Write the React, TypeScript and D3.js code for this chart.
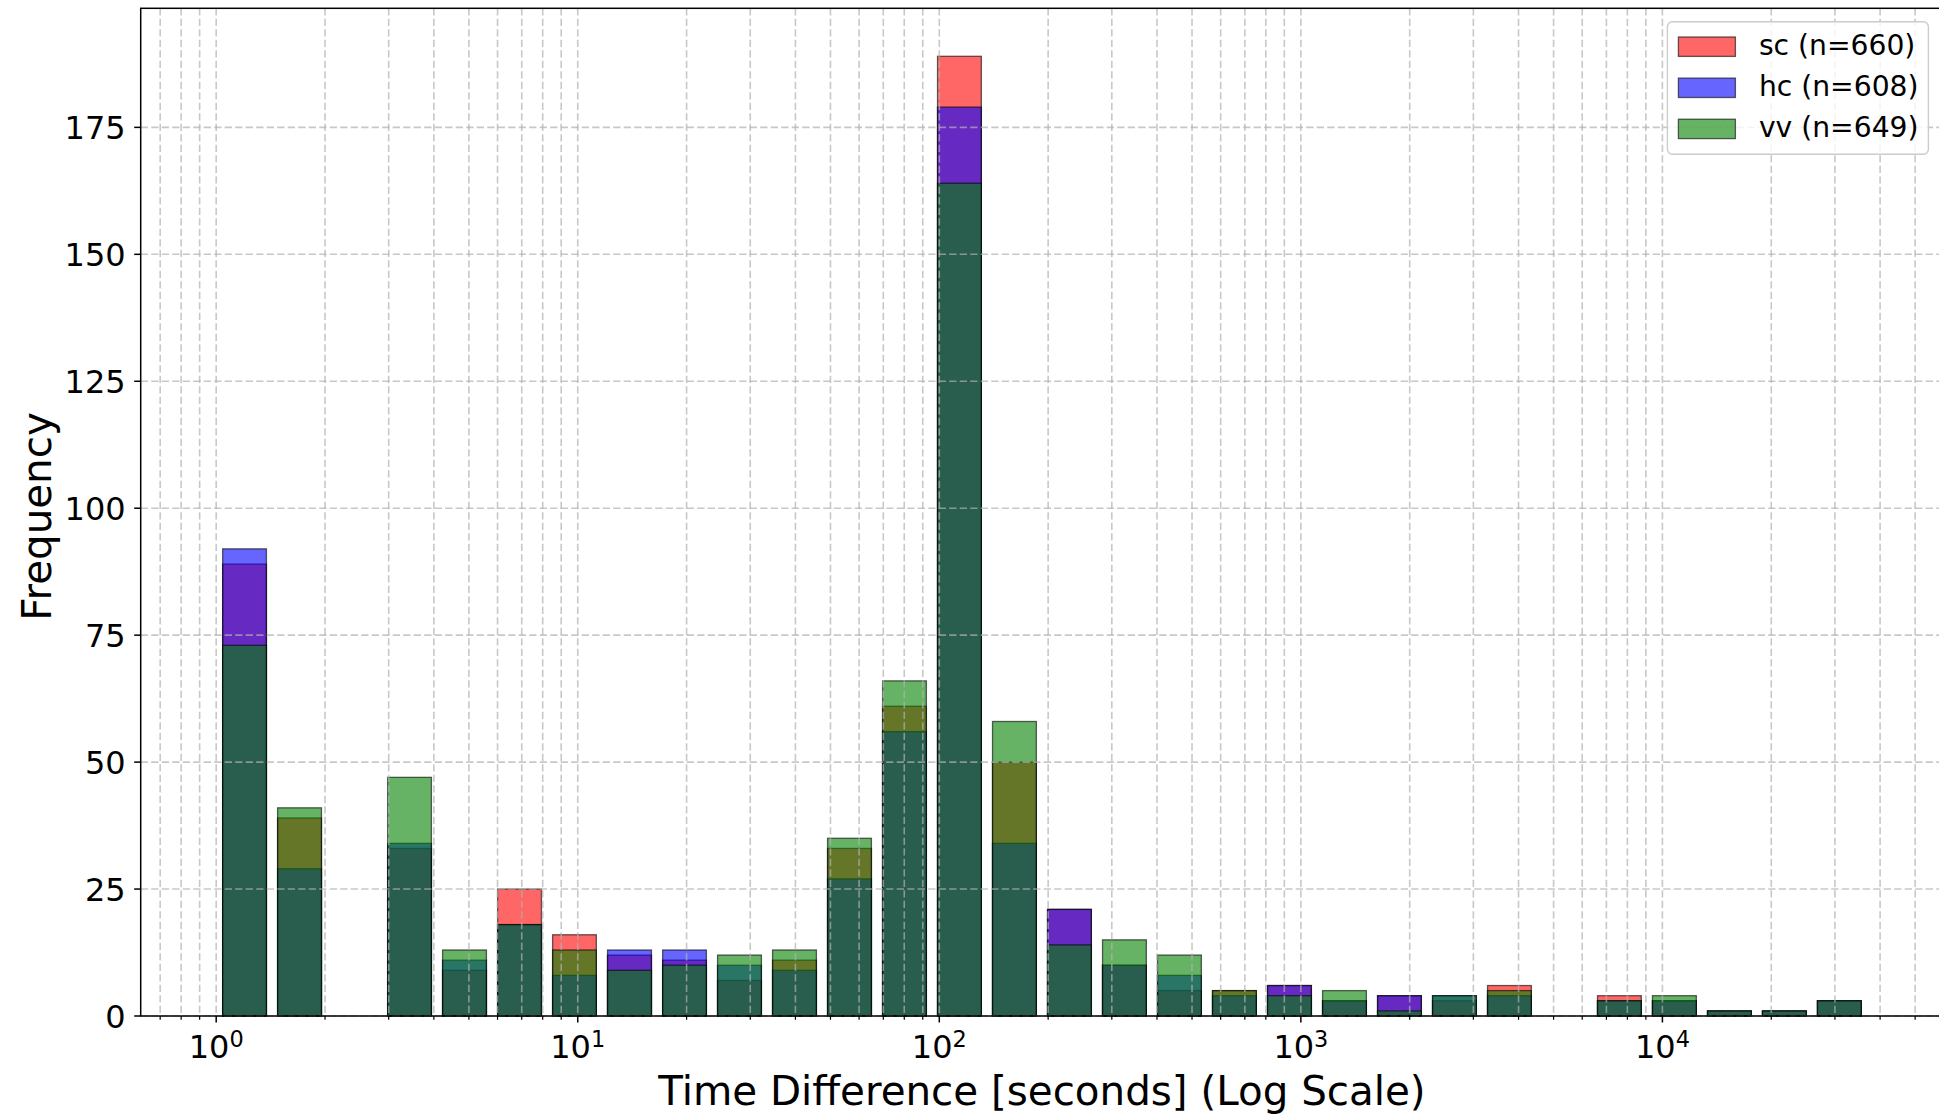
import React from 'react';
import * as d3 from 'd3';

// Histogram bin edges (log-spaced, seconds)
const binEdges = [1, 1.419, 2.015, 2.86, 4.058, 5.761, 8.178, 11.6, 16.48, 23.38, 33.19, 47.11, 66.88, 94.9, 134.7, 191.2, 271.4, 385.2, 546.8, 776.1, 1102, 1564, 2220, 3151, 4472, 6348, 9008, 12790, 18150, 25760, 36560];

// Counts per bin for each series
const scCounts = [89, 39, 0, 33, 9, 25, 16, 12, 11, 7, 11, 33, 61, 189, 50, 21, 10, 5, 5, 6, 3, 4, 3, 6, 0, 4, 3, 1, 1, 3];
const hcCounts = [92, 29, 0, 34, 11, 18, 8, 13, 13, 10, 9, 27, 56, 179, 34, 21, 10, 8, 4, 6, 3, 4, 4, 4, 0, 3, 3, 1, 1, 3];
const vvCounts = [73, 41, 0, 47, 13, 18, 13, 9, 10, 12, 13, 35, 66, 164, 58, 14, 15, 12, 5, 4, 5, 1, 4, 5, 0, 3, 4, 1, 1, 3];

const seriesNames = ['sc', 'hc', 'vv'];
const seriesColors = ['#ff0000', '#0000ff', '#008000'];
const seriesCounts = [scCounts, hcCounts, vvCounts];

const yTickValues = [0, 25, 50, 75, 100, 125, 150, 175];
const xMajorExponents = [0, 1, 2, 3, 4];

const xLabel = 'Time Difference [seconds] (Log Scale)';
const yLabel = 'Frequency';

const W = 1939;
const H = 1115;
const FONT = 'DejaVu Sans, sans-serif';

export default function App() {
  const left = 140.7;
  const right = 1943.2;
  const top = 8.3;
  const bottom = 1016;
  const rwidth = 0.8;
  const alpha = 0.6;

  const bars = binEdges.slice(0, -1).map((lo, i) => {
    const hi = binEdges[i + 1];
    const mid = (lo + hi) / 2;
    const w = rwidth * (hi - lo);
    return { x0: mid - w / 2, x1: mid + w / 2, i };
  });

  // matplotlib-like autoscale: 5% margin in log space
  const lmin = Math.log10(bars[0].x0);
  const lmax = Math.log10(bars[bars.length - 1].x1);
  const span = lmax - lmin;
  const x = d3
    .scaleLog()
    .domain([Math.pow(10, lmin - 0.05 * span), Math.pow(10, lmax + 0.05 * span)])
    .range([left, right]);

  const maxCount = d3.max(seriesCounts.flat()) as number;
  const y = d3.scaleLinear().domain([0, maxCount * 1.05]).range([bottom, top]);

  const allTicks = x.ticks();
  const isMajor = (t: number) => Math.abs(Math.log10(t) - Math.round(Math.log10(t))) < 1e-9;

  const tickFont = 32;
  const legendFont = 28.2;
  const labelFont = 40.4;

  const gridStyle = {
    stroke: '#b0b0b0',
    strokeOpacity: 0.7,
    strokeWidth: 1.6,
    strokeDasharray: '7.3 3.2',
  };

  const legendRight = right - 14.8;
  const legendTop = top + 13.4;
  const legendW = 261;
  const legendH = 132.6;
  const legendLeft = legendRight - legendW;

  return (
    <svg
      width={W}
      height={H}
      style={{ position: 'absolute', left: 0, top: 0, display: 'block', background: '#fff' }}
      fontFamily={FONT}
    >
      <rect x={0} y={0} width={W} height={H} fill="#fff" />

      {/* bars: each series drawn in order */}
      {seriesCounts.map((counts, s) => (
        <g key={seriesNames[s]}>
          {bars.map((b) => (
            <rect
              key={b.i}
              x={x(b.x0)}
              y={y(counts[b.i])}
              width={x(b.x1) - x(b.x0)}
              height={y(0) - y(counts[b.i])}
              fill={seriesColors[s]}
              fillOpacity={alpha}
              stroke="#000"
              strokeOpacity={alpha}
              strokeWidth={1.3}
            />
          ))}
        </g>
      ))}

      {/* grid (drawn above bars as in matplotlib) */}
      <g>
        {allTicks.map((t, i) => (
          <line key={'gx' + i} x1={x(t)} x2={x(t)} y1={top} y2={bottom} {...gridStyle} />
        ))}
        {yTickValues.map((v) => (
          <line key={'gy' + v} x1={left} x2={right} y1={y(v)} y2={y(v)} {...gridStyle} />
        ))}
      </g>

      {/* spines */}
      <rect x={left} y={top} width={right - left} height={bottom - top} fill="none" stroke="#000" strokeWidth={1.5} />

      {/* x ticks */}
      {allTicks.map((t, i) => (
        <line
          key={'tx' + i}
          x1={x(t)}
          x2={x(t)}
          y1={bottom}
          y2={bottom + (isMajor(t) ? 6.5 : 3.8)}
          stroke="#000"
          strokeWidth={isMajor(t) ? 1.5 : 1.2}
        />
      ))}
      {xMajorExponents.map((k) => (
        <text key={'lx' + k} x={x(Math.pow(10, k))} y={bottom + 42} textAnchor="middle" fontSize={tickFont} fill="#000">
          <tspan>10</tspan>
          <tspan dy={-11.5} fontSize={tickFont * 0.7}>
            {k}
          </tspan>
        </text>
      ))}

      {/* y ticks */}
      {yTickValues.map((v) => (
        <g key={'ty' + v}>
          <line x1={left - 6.5} x2={left} y1={y(v)} y2={y(v)} stroke="#000" strokeWidth={1.5} />
          <text x={left - 15} y={y(v)} dy="0.36em" textAnchor="end" fontSize={tickFont} fill="#000">
            {v}
          </text>
        </g>
      ))}

      {/* axis labels */}
      <text x={(left + right) / 2} y={1104.5} textAnchor="middle" fontSize={labelFont} fill="#000">
        {xLabel}
      </text>
      <text
        transform={`translate(${50.5},${516.5}) rotate(-90)`}
        textAnchor="middle"
        fontSize={labelFont}
        fill="#000"
      >
        {yLabel}
      </text>

      {/* legend */}
      <g>
        <rect
          x={legendLeft}
          y={legendTop}
          width={legendW}
          height={legendH}
          rx={5}
          ry={5}
          fill="#fff"
          fillOpacity={0.8}
          stroke="#cccccc"
          strokeWidth={1.4}
        />
        {seriesNames.map((name, s) => {
          const cy = legendTop + 25 + s * 41.1;
          const n = d3.sum(seriesCounts[s]);
          return (
            <g key={'lg' + name}>
              <rect
                x={legendLeft + 11}
                y={cy - 9.7}
                width={57}
                height={19.4}
                fill={seriesColors[s]}
                fillOpacity={alpha}
                stroke="#000"
                strokeOpacity={alpha}
                strokeWidth={1.3}
              />
              <text x={legendLeft + 91.5} y={cy + 8.5} fontSize={legendFont} fill="#000">
                {`${name} (n=${n})`}
              </text>
            </g>
          );
        })}
      </g>
    </svg>
  );
}
